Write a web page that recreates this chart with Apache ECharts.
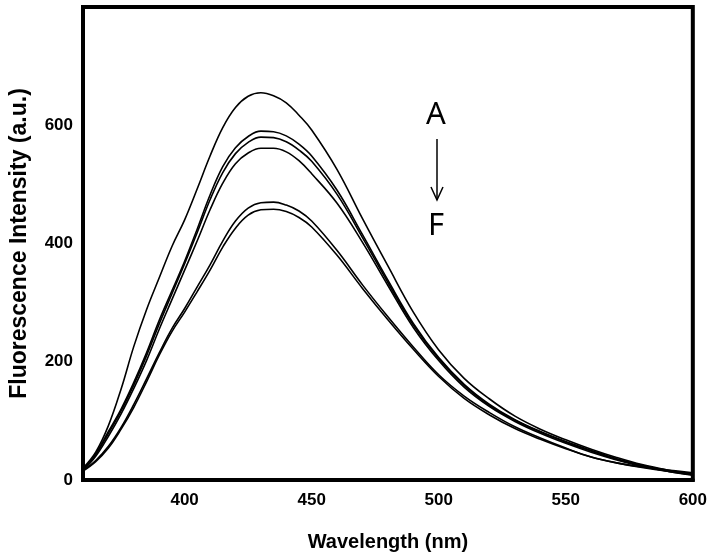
<!DOCTYPE html>
<html>
<head>
<meta charset="utf-8">
<script src="https://cdn.jsdelivr.net/npm/echarts@6/dist/echarts.min.js"></script>
<style>
html,body{margin:0;padding:0;background:#fff;}
#main{width:710px;height:558px;}
</style>
</head>
<body>
<div id="main"></div>
<script>
// Wavelength (nm)
const wavelengths = [360,365,370,375,380,385,390,395,400,405,410,415,420,425,430,435,440,445,450,460,470,480,490,500,510,520,530,540,550,560,570,580,590,600];
// Fluorescence intensity (a.u.) for curves A..F
const curveA = [20,47,92,154,226,288,342,395,440,493,548,596,630,649,655,650,638,617,592,525,442,362,284,220,172,137,108,86,68,52,38,26,17,10];
const curveB = [17,44,82,120,165,215,270,320,370,425,482,530,562,581,590,589,582,568,548,490,415,338,265,207,162,128,102,82,65,50,36,25,16,9];
const curveC = [17,43,79,117,161,210,264,315,366,419,474,520,552,571,580,579,572,558,539,483,410,334,262,205,160,126,101,81,64,49,35,24,15,9];
const curveD = [16,40,74,112,155,202,255,305,355,405,457,502,535,553,561,561,555,540,518,468,402,329,258,202,157,124,99,79,62,47,34,23,15,8];
const curveE = [16,33,57,89,128,171,215,256,290,327,364,404,438,460,469,470,465,455,438,388,330,276,225,178,142,114,90,71,54,39,29,22,17,12];
const curveF = [15,31,54,86,123,166,211,251,284,319,355,394,426,448,457,458,454,444,428,380,324,271,221,175,138,110,87,69,53,39,29,21,15,11];
const xTicks = [400,450,500,550,600];
const yTicks = [0,200,400,600];
const curveNames = ['A','B','C','D','E','F'];

const curves = [curveA, curveB, curveC, curveD, curveE, curveF];
const chart = echarts.init(document.getElementById('main'));
const labelFont = {fontFamily:'Liberation Sans, Arial, sans-serif', fontWeight:'bold', fontSize:17, color:'#000'};
chart.setOption({
  animation:false,
  backgroundColor:'#fff',
  grid:{left:78,right:16,top:7,bottom:78,show:true,borderColor:'#000',borderWidth:4,backgroundColor:'transparent'},
  xAxis:{
    type:'value',min:360,max:600,
    name:'Wavelength (nm)',nameLocation:'middle',nameGap:52,
    nameTextStyle:{fontFamily:'Liberation Sans, Arial, sans-serif',fontWeight:'bold',fontSize:20,color:'#000'},
    axisLine:{show:true,lineStyle:{color:'#000',width:4}},
    axisTick:{show:false},
    splitLine:{show:false},
    axisLabel:Object.assign({customValues:xTicks,margin:12},labelFont)
  },
  yAxis:{
    type:'value',min:0,max:800,
    name:'Fluorescence Intensity (a.u.)',nameLocation:'middle',nameGap:52,nameRotate:90,
    nameTextStyle:{fontFamily:'Liberation Sans, Arial, sans-serif',fontWeight:'bold',fontSize:23,color:'#000'},
    axisLine:{show:true,lineStyle:{color:'#000',width:4}},
    axisTick:{show:false},
    splitLine:{show:false},
    axisLabel:Object.assign({customValues:yTicks,margin:10},labelFont)
  },
  series:curves.map((c,i)=>({
    name:curveNames[i],
    type:'line',
    smooth:0.4,
    showSymbol:false,
    symbol:'none',
    lineStyle:{color:'#000',width:1.6},
    data:wavelengths.map((w,j)=>[w,c[j]])
  })),
  graphic:[
    {type:'text',left:426,top:100,style:{text:'A',font:'31px "Noto Sans", "Open Sans", sans-serif',fill:'#000'}},
    {type:'text',left:428,top:211,style:{text:'F',font:'31px "Noto Sans", "Open Sans", sans-serif',fill:'#000'}},
    {type:'line',shape:{x1:437,y1:139,x2:437,y2:200},style:{stroke:'#000',lineWidth:1.5}},
    {type:'polyline',shape:{points:[[431,187],[437,200],[443,187]]},style:{stroke:'#000',lineWidth:1.5,fill:null}}
  ]
});
</script>
</body>
</html>
